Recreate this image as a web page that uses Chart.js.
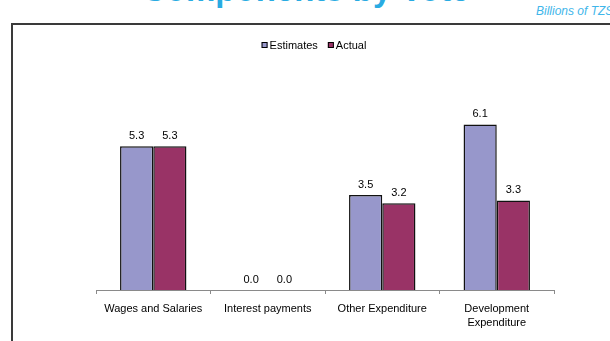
<!DOCTYPE html>
<html>
<head>
<meta charset="utf-8">
<script src="https://cdn.jsdelivr.net/npm/chart.js@4.4.1/dist/chart.umd.min.js"></script>
<style>
  html, body { margin: 0; padding: 0; background: #fff; overflow: hidden; }
  #wrap { position: relative; width: 610px; height: 341px; overflow: hidden; }
  #title {
    position: absolute; left: 142px; top: -30px;
    font: bold 33px Arial, "Liberation Sans", sans-serif;
    color: #29ABE2; white-space: nowrap; line-height: 40px;
  }
  #unit {
    position: absolute; left: 536px; top: 3px;
    font: italic 12px Arial, "Liberation Sans", sans-serif;
    color: #3FB6EA; white-space: nowrap; line-height: 16px;
  }
  #frame {
    position: absolute; left: 11px; top: 23px; width: 700px; height: 400px;
    border: 2px solid #3a3a3a; box-sizing: border-box;
  }
  #c { position: absolute; left: 0; top: 0; }
</style>
</head>
<body>
<div id="wrap">
  <div id="title">Components by Vote</div>
  <div id="unit">Billions of TZS</div>
  <div id="frame"></div>
  <canvas id="c" width="610" height="341"></canvas>
</div>
<script>
// Spending categories and the two series (billions of TZS)
const categories = ['Wages and Salaries', 'Interest payments', 'Other Expenditure', ['Development', 'Expenditure']];
const estimates = [5.3, 0.0, 3.5, 6.1];
const actual = [5.3, 0.0, 3.2, 3.3];
const seriesNames = ['Estimates', 'Actual'];

const FONT = 'Arial, "Liberation Sans", sans-serif';

// Value printed above every bar
const valueLabels = {
  id: 'valueLabels',
  afterDatasetsDraw(chart) {
    const ctx = chart.ctx;
    ctx.save();
    ctx.font = '11px ' + FONT;
    ctx.fillStyle = '#000';
    ctx.textAlign = 'center';
    ctx.textBaseline = 'middle';
    chart.data.datasets.forEach((ds, i) => {
      chart.getDatasetMeta(i).data.forEach((bar, j) => {
        ctx.fillText(ds.data[j].toFixed(1), bar.x, bar.y - 10);
      });
    });
    ctx.restore();
  }
};

// Compact legend: small square swatch right next to its text
const compactLegend = {
  id: 'compactLegend',
  afterDraw(chart) {
    const ctx = chart.ctx;
    ctx.save();
    ctx.font = '11px ' + FONT;
    ctx.textBaseline = 'middle';
    const box = 6, gapText = 2, gapItem = 10;
    const items = chart.data.datasets.map(ds => ({ text: ds.label, color: ds.backgroundColor, w: ctx.measureText(ds.label).width }));
    let total = 0;
    items.forEach((it, k) => { total += box + gapText + it.w + (k ? gapItem : 0); });
    let x = 314 - total / 2;
    const y = 45;
    items.forEach((it, k) => {
      if (k) x += gapItem;
      ctx.fillStyle = it.color;
      ctx.fillRect(x, y - box / 2, box, box);
      ctx.strokeStyle = '#000';
      ctx.lineWidth = 1;
      ctx.strokeRect(x + 0.5, y - box / 2 + 0.5, box - 1, box - 1);
      x += box + gapText;
      ctx.fillStyle = '#000';
      ctx.textAlign = 'left';
      ctx.fillText(it.text, x, y + 0.5);
      x += it.w;
    });
    ctx.restore();
  }
};

new Chart(document.getElementById('c'), {
  type: 'bar',
  data: {
    labels: categories,
    datasets: [
      { label: seriesNames[0], data: estimates, backgroundColor: '#9797CB', borderColor: '#111', borderWidth: 1.5, borderSkipped: 'bottom' },
      { label: seriesNames[1], data: actual, backgroundColor: '#993366', borderColor: '#111', borderWidth: 1.5, borderSkipped: 'bottom' }
    ]
  },
  options: {
    responsive: false,
    animation: false,
    devicePixelRatio: 1,
    layout: { padding: { left: 96, right: 56, top: 100, bottom: 0 } },
    datasets: { bar: { categoryPercentage: 0.58, barPercentage: 1.0 } },
    plugins: { legend: { display: false }, tooltip: { enabled: false } },
    scales: {
      y: { display: false, min: 0, max: 7 },
      x: {
        grid: { drawOnChartArea: false, offset: true, tickLength: 4, color: '#8a8a8a' },
        border: { color: '#8a8a8a', width: 1 },
        ticks: { color: '#000', font: { family: FONT, size: 11, lineHeight: 1.25 }, padding: 8, maxRotation: 0 },
        afterFit(scale) { scale.height = 51; }
      }
    }
  },
  plugins: [valueLabels, compactLegend]
});
</script>
</body>
</html>
